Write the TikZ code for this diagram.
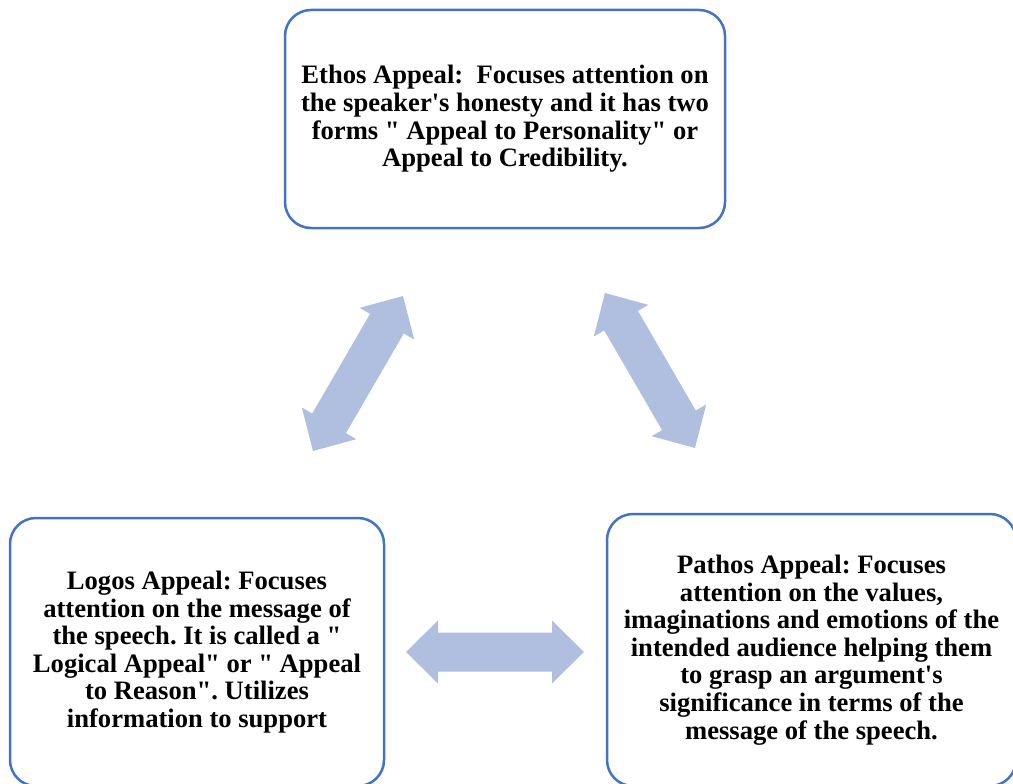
\documentclass[tikz,border=0pt]{standalone}
\usepackage{fontspec}
\setmainfont{Liberation Serif}[Ligatures=TeXOff]
\usetikzlibrary{calc}
\definecolor{boxblue}{RGB}{68,114,196}
\definecolor{arrowblue}{RGB}{176,190,223}
\tikzset{
  appealbox/.style={draw=boxblue, line width=2.5pt, rounded corners=26pt, fill=white,
    align=center, font=\fontsize{26.6pt}{27.6pt}\selectfont\bfseries\frenchspacing, inner sep=0pt},
}
\newcommand{\blockarrow}[2]{%
  \fill[arrowblue]
    (#1)
    -- ($($(#1)!32pt!(#2)$)!31.5pt!90:(#2)$)
    -- ($($(#1)!32pt!(#2)$)!19.5pt!90:(#2)$)
    -- ($($(#2)!32pt!(#1)$)!19.5pt!-90:(#1)$)
    -- ($($(#2)!32pt!(#1)$)!31.5pt!-90:(#1)$)
    -- (#2)
    -- ($($(#2)!32pt!(#1)$)!31.5pt!90:(#1)$)
    -- ($($(#2)!32pt!(#1)$)!19.5pt!90:(#1)$)
    -- ($($(#1)!32pt!(#2)$)!19.5pt!-90:(#2)$)
    -- ($($(#1)!32pt!(#2)$)!31.5pt!-90:(#2)$)
    -- cycle;}
\begin{document}
\begin{tikzpicture}[x=1pt,y=-1pt]
\useasboundingbox (0,0) rectangle (1013,784);
\clip (0,0) rectangle (1013,784);
\fill[white] (0,0) rectangle (1013,784);

\node[appealbox, minimum width=440pt, minimum height=218pt] (ethos) at (505,119)
  {Ethos Appeal:~\ Focuses attention on\\the speaker's honesty and it has two\\forms " Appeal to Personality" or\\Appeal to Credibility.};

\node[appealbox, minimum width=374pt, minimum height=268pt] (logos) at (197,652)
  {Logos Appeal: Focuses\\attention on the message of\\the speech. It is called a "\\Logical Appeal" or " Appeal\\to Reason". Utilizes\\information to support};

\node[appealbox, minimum width=409pt, minimum height=272pt] (pathos) at (811.5,650)
  {Pathos Appeal: Focuses\\attention on the values,\\imaginations and emotions of the\\intended audience helping them\\to grasp an argument's\\significance in terms of the\\message of the speech.};

\coordinate (l1) at (313,451);
\coordinate (l2) at (403,296);
\coordinate (r1) at (605,293);
\coordinate (r2) at (695,448);
\coordinate (h1) at (406,652);
\coordinate (h2) at (584,652);

\blockarrow{l1}{l2}
\blockarrow{r1}{r2}
\blockarrow{h1}{h2}
\end{tikzpicture}
\end{document}
